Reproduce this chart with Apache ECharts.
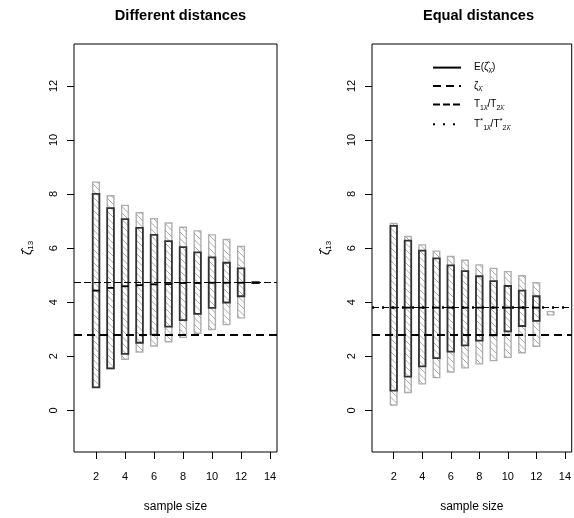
<!DOCTYPE html>
<html><head><meta charset="utf-8">
<script src="https://cdn.jsdelivr.net/npm/echarts@6/dist/echarts.min.js"></script>
<style>html,body{margin:0;padding:0;background:#fff}#c{width:574px;height:518px}</style>
</head><body><div id="c"></div>
<script>
// ---- data ----
const sampleSizes = [2,3,4,5,6,7,8,9,10,11,12,13];
// "Different distances" panel
const diffGreyLow  = [0.85,1.55,1.89,2.16,2.38,2.54,2.70,2.85,2.99,3.17,3.42,4.70];
const diffGreyHigh = [8.44,7.94,7.58,7.31,7.09,6.93,6.77,6.64,6.49,6.32,6.06,4.75];
const diffDarkLow  = [0.85,1.55,2.09,2.50,2.80,3.10,3.34,3.57,3.79,3.99,4.22,4.71];
const diffDarkHigh = [8.01,7.48,7.07,6.75,6.49,6.26,6.04,5.84,5.66,5.46,5.25,4.74];
const diffMean     = [4.43,4.53,4.59,4.63,4.66,4.67,4.71,4.71,4.72,4.72,4.72,4.72];
// "Equal distances" panel
const eqGreyLow  = [0.20,0.66,0.98,1.21,1.42,1.57,1.72,1.84,1.96,2.13,2.37,3.53];
const eqGreyHigh = [6.91,6.43,6.12,5.89,5.69,5.55,5.38,5.25,5.13,4.98,4.72,3.65];
const eqDarkLow  = [0.73,1.25,1.63,1.93,2.17,2.40,2.58,2.77,2.92,3.12,3.31,null];
const eqDarkHigh = [6.82,6.28,5.91,5.62,5.36,5.15,4.96,4.78,4.60,4.43,4.22,null];
const eqMean     = [3.80,3.80,3.80,3.80,3.80,3.80,3.80,3.80,3.80,3.80,3.80,null];
// reference lines
const trueZeta = 2.78;
const diffRatio = 4.72;
const eqRatio = 3.80;
const eqRatioStar = 3.80;
// ticks
const xTicks = [2,4,6,8,10,12,14];
const yTicks = [0,2,4,6,8,10,12];
const titles = ['Different distances','Equal distances'];

const FONT = '"Liberation Sans", Arial, Helvetica, sans-serif';
const ok = v => v !== null && v !== undefined && isFinite(v);

function renderBar(params, api) {
  const x = api.value(0);
  const gl = api.value(1), gh = api.value(2), dl = api.value(3), dh = api.value(4), m = api.value(5);
  const hw = 0.23;
  const children = [];
  if (ok(gl) && ok(gh)) {
    const a = api.coord([x - hw, gh]), b = api.coord([x + hw, gl]);
    const x0 = a[0], y0 = a[1], x1 = b[0], y1 = b[1];
    children.push({type:'rect', shape:{x:x0, y:y0, width:x1-x0, height:Math.max(y1-y0,0.5)},
      style:{fill:'#fff', stroke:'#b0b0b0', lineWidth:1.4}});
    const s = 6.5;
    const cStart = Math.ceil((y0 - x1) / s) * s;
    for (let c = cStart; c <= y1 - x0; c += s) {
      const xs = Math.max(x0, y0 - c), xe = Math.min(x1, y1 - c);
      if (xe > xs + 0.3) children.push({type:'line', shape:{x1:xs, y1:xs+c, x2:xe, y2:xe+c},
        style:{stroke:'#959595', lineWidth:0.8}});
    }
  }
  if (ok(dl) && ok(dh)) {
    const a = api.coord([x - hw, dh]), b = api.coord([x + hw, dl]);
    children.push({type:'rect', shape:{x:a[0], y:a[1], width:b[0]-a[0], height:Math.max(b[1]-a[1],0.5)},
      style:{fill:'none', stroke:'#333', lineWidth:1.8}});
  }
  if (ok(m)) {
    const a = api.coord([x - hw, m]), b = api.coord([x + hw, m]);
    children.push({type:'line', shape:{x1:a[0], y1:a[1], x2:b[0], y2:b[1]},
      style:{stroke:'#000', lineWidth:1.8}});
  }
  return {type:'group', children};
}

function barData(gl, gh, dl, dh, m) {
  return sampleSizes.map((s, i) => [s, gl[i], gh[i], dl[i], dh[i], m[i]]);
}

const grids = [
  {left:74, top:44, width:203, height:410, show:true, borderColor:'#000', borderWidth:1, backgroundColor:'transparent'},
  {left:372, top:44, width:203, height:410, show:true, borderColor:'#000', borderWidth:1, backgroundColor:'transparent'}
];

function xAxis(i) {
  return {gridIndex:i, type:'value', min:0.48, max:14.48,
    axisLine:{show:false, onZero:false}, splitLine:{show:false},
    axisTick:{show:true, customValues:xTicks, length:7, inside:false, lineStyle:{color:'#000', width:1}},
    axisLabel:{customValues:xTicks, margin:19, fontSize:11, color:'#000', fontFamily:FONT},
    name:'sample size', nameLocation:'middle', nameGap:49,
    nameTextStyle:{fontSize:12, color:'#000', fontFamily:FONT}};
}
function yAxis(i) {
  return {gridIndex:i, type:'value', min:-1.54, max:13.55,
    axisLine:{show:false, onZero:false}, splitLine:{show:false},
    axisTick:{show:true, customValues:yTicks, length:7, inside:false, lineStyle:{color:'#000', width:1}},
    axisLabel:{customValues:yTicks, rotate:90, margin:15, fontSize:11, color:'#000', fontFamily:FONT},
    name:'{n|ζ\u0302}{s|13}', nameLocation:'middle', nameGap:39, nameRotate:90,
    nameTextStyle:{color:'#000', fontFamily:FONT, rich:{
      n:{fontSize:12, lineHeight:14, color:'#000', fontFamily:FONT},
      s:{fontSize:8, lineHeight:8, verticalAlign:'bottom', color:'#000', fontFamily:FONT}}}};
}

function refLine(name, i, val, ls) {
  return {type:'line', name, xAxisIndex:i, yAxisIndex:i, data:[], symbol:'none', silent:true,
    lineStyle:ls, itemStyle:{color:ls.color},
    markLine: val === null ? undefined : {silent:true, symbol:'none', label:{show:false},
      lineStyle:Object.assign({}, ls), emphasis:{disabled:true}, data:[{yAxis:val}]}};
}

const styleE = {color:'#000', width:1.5, type:'solid'};
const styleZ = {color:'#000', width:2, type:[8,5]};
const styleT = {color:'#000', width:1.2, type:[7,3]};
const styleTs = {color:'#000', width:2.5, type:[2,8]};

const series = [
  {type:'custom', name:'barsDiff', xAxisIndex:0, yAxisIndex:0, renderItem:renderBar,
    encode:{x:0, y:[1,2]}, data:barData(diffGreyLow, diffGreyHigh, diffDarkLow, diffDarkHigh, diffMean), silent:true, clip:true},
  {type:'custom', name:'barsEq', xAxisIndex:1, yAxisIndex:1, renderItem:renderBar,
    encode:{x:0, y:[1,2]}, data:barData(eqGreyLow, eqGreyHigh, eqDarkLow, eqDarkHigh, eqMean), silent:true, clip:true},
  refLine('E', 1, null, styleE),
  refLine('zeta', 0, trueZeta, styleZ),
  refLine('zeta', 1, trueZeta, styleZ),
  refLine('T', 0, diffRatio, styleT),
  refLine('T', 1, eqRatio, styleT),
  refLine('Tstar', 1, eqRatioStar, styleTs)
];

const legendLabels = {
  E: '{n|E(}{n|ζ\u0302}{s|λ\u0304}{n|)}',
  zeta: '{n|ζ}{s|λ\u0304}',
  T: '{n|T}{s|1λ\u0304}{n|/T}{s|2λ\u0304}',
  Tstar: '{n|T}{sp|*}{s|1λ\u0304}{n|/T}{sp|*}{s|2λ\u0304}'
};

const option = {
  animation:false,
  backgroundColor:'#fff',
  textStyle:{fontFamily:FONT},
  title: titles.map((t, i) => ({text:t, left: i === 0 ? 175.5 : 473.5, top:3, textAlign:'center',
    textStyle:{fontSize:14.6, fontWeight:'bold', color:'#000', fontFamily:FONT}})),
  grid: grids,
  xAxis:[xAxis(0), xAxis(1)],
  yAxis:[yAxis(0), yAxis(1)],
  legend:{show:true, orient:'vertical', left:432, top:62, padding:0, itemWidth:28, itemHeight:14, itemGap:5.8,
    selectedMode:false, data:['E','zeta','T','Tstar'],
    itemStyle:{opacity:0, borderWidth:0},
    formatter: name => legendLabels[name],
    textStyle:{padding:[0,0,0,8], color:'#000', fontFamily:FONT, rich:{
      n:{fontSize:10, lineHeight:14, color:'#000', fontFamily:FONT},
      s:{fontSize:7, lineHeight:8, verticalAlign:'bottom', color:'#000', fontFamily:FONT},
      sp:{fontSize:8, lineHeight:8, verticalAlign:'top', color:'#000', fontFamily:FONT}}}},
  series
};

const chart = echarts.init(document.getElementById('c'), null, {renderer:'canvas'});
chart.setOption(option);
</script>
</body></html>
